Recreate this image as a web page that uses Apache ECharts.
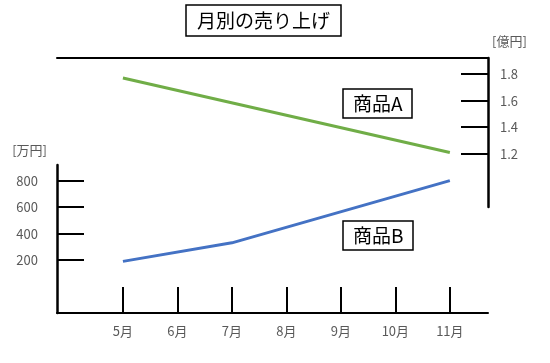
<!DOCTYPE html>
<html><head><meta charset="utf-8">
<script src="https://cdn.jsdelivr.net/npm/echarts@6/dist/echarts.min.js"></script>
<style>html,body{margin:0;padding:0;background:#fff}#c{width:550px;height:363px}</style>
</head><body><div id="c"></div>
<script>
const months = [5, 6, 7, 8, 9, 10, 11];
const monthSuffix = '月';
// 商品A (億円)
const productA = [[5, 1.77], [11, 1.21]];
// 商品B (万円)
const productB = [[5, 190], [7, 330], [11, 800]];
const ticksA = [1.2, 1.4, 1.6, 1.8];
const ticksB = [200, 400, 600, 800];

const FONT = '"Noto Sans CJK JP", sans-serif';
const chart = echarts.init(document.getElementById('c'));
const black = { color: '#000', width: 2 };
chart.setOption({
  animation: false,
  textStyle: { fontFamily: FONT },
  title: [
    { text: '月別の売り上げ', left: 186, top: 5, padding: [6, 11], borderWidth: 1.5, borderColor: '#000',
      textStyle: { fontFamily: FONT, fontSize: 19, fontWeight: 'normal', color: '#000' } },
    { text: '商品A', left: 343, top: 89, padding: [5, 10], borderWidth: 1.5, borderColor: '#000',
      textStyle: { fontFamily: FONT, fontSize: 19, fontWeight: 'normal', color: '#000' } },
    { text: '商品B', left: 343, top: 221, padding: [5, 10], borderWidth: 1.5, borderColor: '#000',
      textStyle: { fontFamily: FONT, fontSize: 19, fontWeight: 'normal', color: '#000' } }
  ],
  grid: [
    { left: 57, right: 62, top: 58, height: 149 },
    { left: 57, right: 62, top: 165, bottom: 50 }
  ],
  xAxis: [
    { gridIndex: 0, type: 'value', min: 3.79, max: 11.7, position: 'top',
      axisLine: { show: true, onZero: false, lineStyle: black }, axisTick: { show: false }, axisLabel: { show: false }, splitLine: { show: false } },
    { gridIndex: 1, type: 'value', min: 3.79, max: 11.7, position: 'bottom',
      axisLine: { show: true, onZero: false, lineStyle: black },
      axisTick: { show: true, inside: true, length: 26, lineStyle: black, customValues: months },
      axisLabel: { show: true, margin: 12, color: '#595959', fontSize: 13, customValues: months, formatter: v => v + monthSuffix },
      splitLine: { show: false } }
  ],
  yAxis: [
    { gridIndex: 0, type: 'value', position: 'right', min: 0.8, max: 1.92,
      name: '[億円]', nameLocation: 'end', nameGap: 10,
      nameTextStyle: { color: '#595959', fontSize: 13, align: 'left', padding: [0, 0, 0, 4] },
      axisLine: { show: true, onZero: false, lineStyle: { color: '#000', width: 2.5 } },
      axisTick: { show: true, inside: true, length: 27, lineStyle: black, customValues: ticksA },
      axisLabel: { show: true, margin: 12, color: '#595959', fontSize: 13, customValues: ticksA, formatter: v => v.toFixed(1) },
      splitLine: { show: false } },
    { gridIndex: 1, type: 'value', position: 'left', min: -200, max: 918,
      name: '[万円]', nameLocation: 'end', nameGap: 8,
      nameTextStyle: { color: '#595959', fontSize: 13, align: 'right', padding: [0, 10, 0, 0] },
      axisLine: { show: true, onZero: false, lineStyle: { color: '#000', width: 2.5 } },
      axisTick: { show: true, inside: true, length: 27, lineStyle: black, customValues: ticksB },
      axisLabel: { show: true, margin: 19, color: '#595959', fontSize: 13, customValues: ticksB },
      splitLine: { show: false } }
  ],
  series: [
    { name: '商品A', type: 'line', xAxisIndex: 0, yAxisIndex: 0, data: productA, symbol: 'none',
      lineStyle: { color: '#70AD47', width: 3 } },
    { name: '商品B', type: 'line', xAxisIndex: 1, yAxisIndex: 1, data: productB, symbol: 'none',
      lineStyle: { color: '#4472C4', width: 3 } }
  ]
});
</script></body></html>
